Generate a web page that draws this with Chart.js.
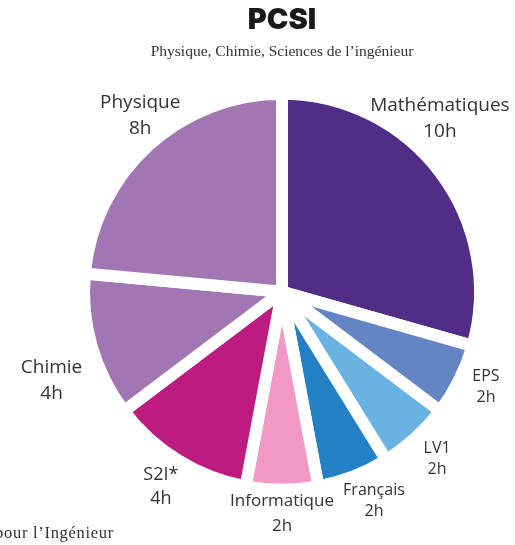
<!DOCTYPE html>
<html>
<head>
<meta charset="utf-8">
<script src="https://cdn.jsdelivr.net/npm/chart.js@4.4.1/dist/chart.umd.min.js"></script>
<style>
    html, body { margin: 0; padding: 0; background: #fff; overflow: hidden; }
    #wrap { position: relative; width: 515px; height: 545px; }
    #note {
        position: absolute; right: 401px; top: 523px;
        font-family: 'Liberation Serif', serif; font-size: 16.5px; color: #333;
        letter-spacing: 0.7px; white-space: nowrap;
    }
</style>
</head>
<body>
<div id="wrap">
    <canvas id="pieChart"></canvas>
    <div id="note">* S2I : Sciences Industrielles pour l’Ingénieur</div>
</div>
<script>
const subjects = ["Mathématiques", "EPS", "LV1", "Français", "Informatique", "S2I*", "Chimie", "Physique"];
const hours = [10, 2, 2, 2, 2, 4, 4, 8];
const colors = ['#512d87', '#6385c4', '#6ab2e1', '#2380c4', '#f298c4', '#be1b80', '#a276b2', '#a276b2'];

// label styling: angle nudge (deg), distance past the edge, font size, line height
const labelNudge = [-10.5, -1.5, -0.5, -2.5, 0, 0, -5.2, 3.5];
const labelDist = [42, 33, 36, 37, 30, 38, 55, 34];
const labelSize = [19, 16, 16, 16, 17, 18, 19, 19];
const labelLine = [26, 21, 21, 21, 25, 24, 26, 26];

const GAP = 12;

const outerLabels = {
    id: 'outerLabels',
    afterDatasetsDraw(chart) {
        const ctx = chart.ctx;
        const arcs = chart.getDatasetMeta(0).data;
        ctx.save();
        ctx.fillStyle = '#333333';
        ctx.textAlign = 'center';
        ctx.textBaseline = 'middle';
        arcs.forEach((arc, i) => {
            const p = arc.getProps(['x', 'y', 'startAngle', 'endAngle', 'outerRadius'], true);
            const mid = (p.startAngle + p.endAngle) / 2 + labelNudge[i] * Math.PI / 180;
            const r = p.outerRadius - GAP / 2 + labelDist[i];
            const cx = p.x + Math.cos(mid) * r;
            const cy = p.y + Math.sin(mid) * r;
            ctx.font = `${labelSize[i]}px 'Open Sans', sans-serif`;
            ctx.fillText(subjects[i], cx, cy - labelLine[i] / 2);
            ctx.fillText(hours[i] + 'h', cx, cy + labelLine[i] / 2);
        });
        ctx.restore();
    }
};

new Chart(document.getElementById('pieChart'), {
    type: 'pie',
    data: {
        labels: subjects,
        datasets: [{
            data: hours,
            backgroundColor: colors,
            borderColor: '#ffffff',
            borderWidth: GAP,
            hoverOffset: 0
        }]
    },
    options: {
        responsive: true,
        maintainAspectRatio: false,
        animation: false,
        radius: 192 + GAP / 2,
        layout: { padding: { left: 49, right: 0, top: 0, bottom: 23 } },
        plugins: {
            legend: { display: false },
            tooltip: { enabled: false },
            title: {
                display: true,
                text: 'PCSI',
                color: '#1a1a1a',
                font: { family: "'Inter', 'DejaVu Sans', sans-serif", size: 29, weight: 900 },
                padding: { top: 3, bottom: 3 }
            },
            subtitle: {
                display: true,
                text: 'Physique, Chimie, Sciences de l’ingénieur',
                color: '#333',
                font: { family: "'Liberation Serif', serif", size: 15.5 },
                padding: { top: 2, bottom: 0 }
            }
        }
    },
    plugins: [outerLabels]
});
</script>
</body>
</html>
